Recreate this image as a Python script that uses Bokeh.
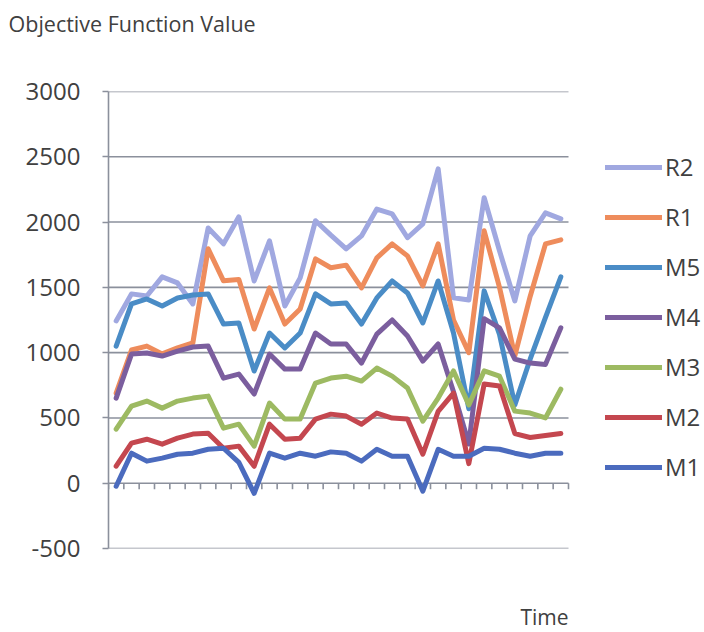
from bokeh.plotting import figure
from bokeh.models import Range1d, FixedTicker, Legend, LegendItem, Title
from bokeh.embed import file_html
from bokeh.resources import INLINE

# Thirty time periods, one value per period for each method
periods = list(range(1, 31))

r2 = [1243, 1450, 1434, 1580, 1534, 1373, 1955, 1833, 2040, 1549,
      1856, 1357, 1573, 2010, 1900, 1795, 1894, 2100, 2063, 1880,
      1986, 2408, 1420, 1403, 2187, 1780, 1396, 1894, 2071, 2025]
r1 = [690, 1020, 1050, 990, 1036, 1074, 1795, 1550, 1560, 1181,
      1496, 1219, 1334, 1718, 1650, 1670, 1496, 1726, 1833, 1741,
      1511, 1833, 1250, 1000, 1933, 1500, 975, 1430, 1833, 1864]
m5 = [1050, 1373, 1411, 1357, 1419, 1442, 1450, 1219, 1227, 859,
      1150, 1036, 1150, 1450, 1373, 1380, 1219, 1419, 1549, 1457,
      1227, 1549, 1150, 570, 1473, 1140, 600, 950, 1270, 1580]
m4 = [652, 989, 997, 974, 1012, 1043, 1050, 805, 836, 683,
      989, 874, 874, 1150, 1066, 1066, 920, 1142, 1250, 1127,
      935, 1066, 700, 300, 1260, 1190, 950, 920, 910, 1190]
m3 = [414, 590, 629, 575, 629, 652, 667, 422, 452, 284,
      614, 491, 491, 767, 805, 820, 782, 882, 820, 729,
      475, 652, 860, 600, 860, 820, 552, 537, 500, 720]
m2 = [130, 307, 337, 299, 345, 376, 383, 268, 284, 130,
      452, 337, 345, 491, 529, 514, 452, 537, 499, 491,
      222, 550, 690, 150, 760, 744, 380, 350, 365, 380]
m1 = [-23, 230, 169, 192, 222, 230, 260, 268, 160, -77,
      230, 192, 230, 207, 240, 230, 169, 260, 207, 207,
      -61, 260, 207, 207, 268, 260, 230, 207, 230, 230]

series_names = ["R2", "R1", "M5", "M4", "M3", "M2", "M1"]
series_values = [r2, r1, m5, m4, m3, m2, m1]
series_colors = ["#a0a8e0", "#ee8c5c", "#4a8cc6", "#7b5e9e",
                 "#9dba62", "#c4474f", "#4b6bbe"]

y_ticks = [-500, 0, 500, 1000, 1500, 2000, 2500, 3000]
y_tick_labels = {t: str(t) for t in y_ticks}

FONT = "Open Sans"
TEXT_COLOR = "#404040"
GRID_COLOR = "#8b909c"

W, H = 704, 632
LEFT, TOP, BOTTOM = 108, 91, 84
PLOT_W = 460                      # width of the gridded area
frame_w = W - LEFT                # frame also holds the legend on its right
frame_h = H - TOP - BOTTOM
n = len(periods)

p = figure(width=W, height=H, output_backend="svg", toolbar_location=None,
           x_range=Range1d(0, n * frame_w / PLOT_W),
           y_range=Range1d(y_ticks[0], y_ticks[-1]),
           min_border_left=LEFT, min_border_right=0,
           min_border_top=TOP, min_border_bottom=BOTTOM)
p.outline_line_color = None
p.background_fill_color = "white"
p.border_fill_color = "white"

p.xaxis.visible = False
p.xgrid.visible = False
p.ygrid.visible = False

p.yaxis.ticker = FixedTicker(ticks=y_ticks)
p.yaxis.major_label_overrides = y_tick_labels
p.yaxis.axis_line_color = GRID_COLOR
p.yaxis.axis_line_width = 1.6
p.yaxis.major_tick_line_color = GRID_COLOR
p.yaxis.major_tick_line_width = 1.6
p.yaxis.major_tick_in = 0
p.yaxis.major_tick_out = 6
p.yaxis.minor_tick_line_color = None
p.yaxis.major_label_text_font = FONT
p.yaxis.major_label_text_font_size = "24px"
p.yaxis.major_label_text_color = TEXT_COLOR
p.yaxis.major_label_standoff = 22

# horizontal gridlines across the time periods only
p.segment(x0=[0] * len(y_ticks), x1=[n] * len(y_ticks), y0=y_ticks, y1=y_ticks,
          line_color=GRID_COLOR, line_width=1.6)

# category tick marks hanging below the zero line
units_per_px = (y_ticks[-1] - y_ticks[0]) / frame_h
edges = list(range(n + 1))
p.segment(x0=edges, x1=edges, y0=[0] * len(edges),
          y1=[-6 * units_per_px] * len(edges),
          line_color=GRID_COLOR, line_width=1.6)

xs = [i + 0.5 for i in range(n)]
items = []
for name, vals, col in zip(series_names, series_values, series_colors):
    r = p.line(xs, vals, line_color=col, line_width=5,
               line_join="round", line_cap="round")
    items.append(LegendItem(label=name, renderers=[r]))

legend = Legend(items=items, location=(497, 65),
                glyph_width=57, glyph_height=20, label_height=20,
                spacing=17, padding=0, margin=0, label_standoff=3,
                label_text_font=FONT, label_text_font_size="24px",
                label_text_color=TEXT_COLOR,
                border_line_color=None, background_fill_alpha=0)
p.add_layout(legend)


def spacer(gap):
    # blank title used only to push the next title away from the frame
    return Title(text=" ", text_font_size="1px", standoff=gap)


# chart heading, top left
p.add_layout(spacer(51), "above")
p.add_layout(Title(text="Objective Function Value", align="left",
                   offset=8 - LEFT, standoff=0, text_font=FONT,
                   text_font_size="21.5px", text_font_style="normal",
                   text_color=TEXT_COLOR), "above")

# horizontal axis caption, bottom right
p.add_layout(spacer(49), "below")
p.add_layout(Title(text="Time", align="right", offset=frame_w - PLOT_W,
                   standoff=0, text_font=FONT, text_font_size="21px",
                   text_font_style="normal", text_color=TEXT_COLOR), "below")

open("out.html", "w").write(file_html(p, INLINE))
